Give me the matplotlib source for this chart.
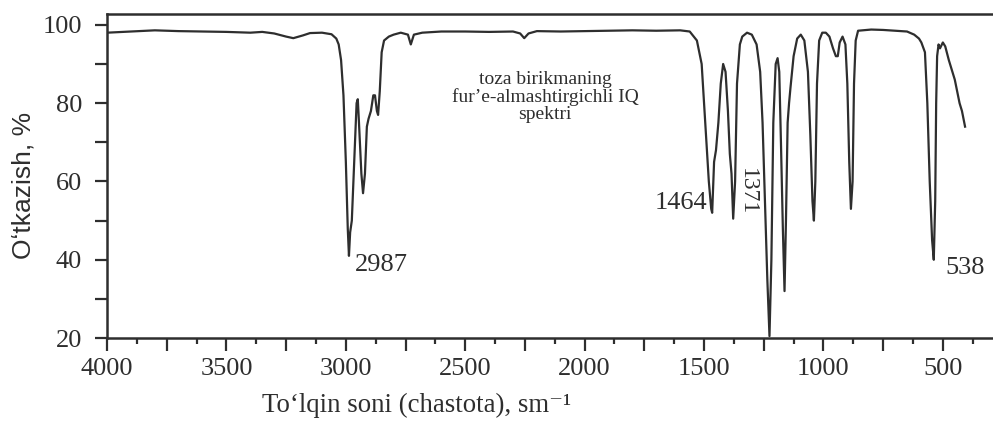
import matplotlib
matplotlib.use("Agg")
import matplotlib.pyplot as plt
from matplotlib.ticker import MultipleLocator, FuncFormatter

# =========================
# Spektr ma'lumotlari (rasmdan o'qilgan)
# =========================
wavenumber = [
    4000, 3900, 3800, 3700, 3600, 3500, 3400, 3350, 3300, 3250, 3220, 3180,
    3150, 3100, 3060, 3040, 3030, 3020, 3010, 3000, 2992, 2987, 2982, 2975,
    2965, 2955, 2950, 2945, 2935, 2928, 2920, 2912, 2905, 2895, 2885, 2878,
    2870, 2865, 2858, 2850, 2840, 2820, 2800, 2770, 2740, 2728, 2715, 2680,
    2600, 2500, 2400, 2300, 2270, 2253, 2235, 2200, 2100, 2000, 1900, 1800,
    1700, 1600, 1560, 1530, 1510, 1495, 1480, 1470, 1466, 1458, 1450, 1440,
    1430, 1420, 1410, 1400, 1392, 1385, 1378, 1370, 1362, 1350, 1340, 1320,
    1300, 1280, 1265, 1255, 1245, 1235, 1226, 1218, 1210, 1200, 1192, 1185,
    1178, 1170, 1163, 1157, 1150, 1144, 1138, 1125, 1110, 1095, 1080, 1065,
    1055, 1046, 1040, 1034, 1027, 1018, 1005, 990, 975, 960, 948, 940,
    932, 920, 908, 900, 892, 885, 878, 872, 865, 855, 800, 750,
    700, 650, 620, 600, 590, 575, 565, 555, 545, 538, 532, 528,
    524, 518, 512, 500, 490, 475, 460, 450, 440, 430, 420, 407,
]
transmittance = [
    98.0, 98.3, 98.6, 98.4, 98.3, 98.2, 98.0, 98.2, 97.8, 97.0, 96.6, 97.3,
    97.9, 98.0, 97.6, 96.5, 95.0, 91.0, 82.0, 65.0, 48.0, 41.0, 47.0, 50.0,
    65.0, 80.0, 81.0, 75.0, 62.0, 57.0, 62.0, 74.0, 76.0, 78.0, 82.0, 82.0,
    78.0, 77.0, 83.0, 93.0, 96.0, 97.0, 97.5, 98.0, 97.5, 95.0, 97.5, 98.0,
    98.3, 98.3, 98.2, 98.3, 97.8, 96.6, 97.8, 98.4, 98.3, 98.4, 98.5, 98.6,
    98.5, 98.6, 98.3, 96.0, 90.0, 75.0, 60.0, 53.0, 52.0, 65.0, 68.0, 75.0,
    85.0, 90.0, 88.0, 78.0, 67.0, 62.0, 50.5, 60.0, 85.0, 95.0, 97.0, 98.0,
    97.5, 95.0, 88.0, 75.0, 55.0, 35.0, 20.5, 40.0, 75.0, 90.0, 91.5, 88.0,
    70.0, 48.0, 32.0, 50.0, 75.0, 80.0, 84.0, 92.0, 96.5, 97.5, 96.0, 88.0,
    72.0, 55.0, 50.0, 60.0, 85.0, 96.0, 98.0, 98.0, 97.0, 94.0, 92.0, 92.0,
    95.5, 97.0, 95.0, 85.0, 65.0, 53.0, 60.0, 85.0, 96.0, 98.5, 98.8, 98.7,
    98.5, 98.3, 97.5, 96.5, 95.5, 93.0, 80.0, 60.0, 45.0, 40.0, 55.0, 80.0,
    92.0, 95.0, 94.0, 95.5, 94.5, 91.0, 88.0, 86.0, 83.0, 80.0, 78.0, 74.0,
]

peak_labels = ["2987", "1464", "1371", "538"]
peak_x = [2961, 1487, 1320, 490]
peak_y = [38.6, 54.5, 57.3, 37.8]

x_ticks = [4000, 3500, 3000, 2500, 2000, 1500, 1000, 500]
y_ticks = [20, 40, 60, 80, 100]

title_text = "toza birikmaning\nfurʼe-almashtirgichli IQ\nspektri"
xlabel = "Toʻlqin soni (chastota), sm⁻¹"
ylabel = "Oʻtkazish, %"

# =========================
# Chizish
# =========================
serif = ["Liberation Serif", "DejaVu Serif"]
sans = ["Liberation Sans", "DejaVu Sans"]
ink = "#2e2e2e"

fig = plt.figure(figsize=(9.93, 4.21), dpi=100)
ax = fig.add_axes([0.1078, 0.197, 0.8922, 0.770])

ax.plot(wavenumber, transmittance, color=ink, lw=1.6)

ax.set_xlim(4000, 290)
ax.set_ylim(20, 102.8)

ax.xaxis.set_major_locator(MultipleLocator(250))
ax.xaxis.set_minor_locator(MultipleLocator(125))
ax.xaxis.set_major_formatter(
    FuncFormatter(lambda v, p: f"{int(v)}" if int(v) in x_ticks else ""))
ax.set_yticks(y_ticks)
ax.yaxis.set_minor_locator(MultipleLocator(10))

ax.tick_params(axis="x", which="major", length=9, width=1.6, pad=5,
               colors=ink, labelsize=19)
ax.tick_params(axis="x", which="minor", length=4.5, width=1.6, colors=ink)
ax.tick_params(axis="y", which="major", length=9, width=1.6, pad=9,
               colors=ink, labelsize=19)
ax.tick_params(axis="y", which="minor", length=8.5, width=1.6, colors=ink)
for lab in ax.get_xticklabels() + ax.get_yticklabels():
    lab.set_family(serif)

for side in ["left", "bottom", "top"]:
    ax.spines[side].set_linewidth(1.8)
    ax.spines[side].set_color(ink)
ax.spines["right"].set_visible(False)

# cho'qqi belgilari
for lab, px, py in zip(peak_labels, peak_x, peak_y):
    if lab == "1464":
        ax.text(px, py, lab, ha="right", va="center", fontsize=19,
                family=serif, color=ink)
    elif lab == "1371":
        ax.text(px, py, lab, ha="center", va="center", fontsize=17,
                family=serif, color=ink, rotation=270)
    else:
        ax.text(px, py, lab, ha="left", va="center", fontsize=19,
                family=serif, color=ink)

ax.text(2166, 81.6, title_text, ha="center", va="center", fontsize=14,
        family=serif, color=ink, linespacing=1.0)

fig.text(0.42, 0.036, xlabel, ha="center", va="center", fontsize=19.3,
         family=serif, color=ink)
fig.text(0.024, 0.56, ylabel, ha="center", va="center", fontsize=19,
         family=sans, color=ink, rotation=90)

fig.savefig("out.png", dpi=100)
